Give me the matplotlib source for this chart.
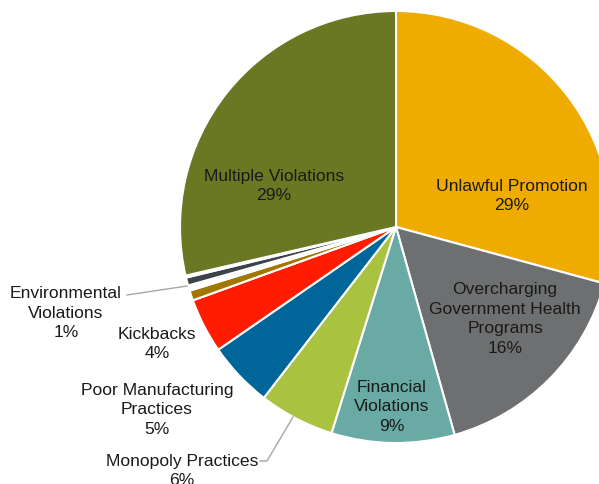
import matplotlib
matplotlib.use("Agg")
import matplotlib.pyplot as plt

plt.rcParams['font.family'] = ['Liberation Sans', 'DejaVu Sans']

# Settlement categories, clockwise from 12 o'clock (percent of total)
categories = [
    "Unlawful Promotion",
    "Overcharging Government Health Programs",
    "Financial Violations",
    "Monopoly Practices",
    "Poor Manufacturing Practices",
    "Kickbacks",
    "Other (a)",
    "Other (b)",
    "Environmental Violations",
    "Other (c)",
    "Multiple Violations",
]
shares = [29.2, 16.4, 9.2, 5.65, 4.9, 4.1, 0.75, 0.4, 0.6, 0.15, 28.6]
colors = [
    "#F0AB00", "#6D6F70", "#69AAA5", "#A9C23F", "#00669A", "#FF1C00",
    "#A07800", "#FFFFFF", "#3D4449", "#8FBCC4", "#6A7723",
]

# Label text for each labelled slice, with its position (figure pixels)
label_text = {
    "Unlawful Promotion": "Unlawful Promotion",
    "Overcharging Government Health Programs": "Overcharging\nGovernment Health\nPrograms",
    "Financial Violations": "Financial\nViolations",
    "Monopoly Practices": "Monopoly Practices",
    "Poor Manufacturing Practices": "Poor Manufacturing\nPractices",
    "Kickbacks": "Kickbacks",
    "Environmental Violations": "Environmental\nViolations",
    "Multiple Violations": "Multiple Violations",
}
label_pos = {
    "Unlawful Promotion": (512, 196),
    "Overcharging Government Health Programs": (505, 319),
    "Financial Violations": (392, 407),
    "Monopoly Practices": (182, 471),
    "Poor Manufacturing Practices": (157, 410),
    "Kickbacks": (157, 344),
    "Environmental Violations": (66, 313),
    "Multiple Violations": (274, 186),
}

W, H = 599, 485
fig = plt.figure(figsize=(W / 100, H / 100), dpi=100)
ax = fig.add_axes([0, 0, 1, 1])
ax.set_xlim(0, W)
ax.set_ylim(0, H)
ax.set_aspect("equal")
ax.axis("off")

cx, cy, r = 396, H - 228, 216
wedges, _ = ax.pie(
    shares, colors=colors, startangle=90, counterclock=False,
    center=(cx, cy), radius=r,
    wedgeprops=dict(edgecolor="white", linewidth=1.5),
)
ax.set_xlim(0, W)
ax.set_ylim(0, H)

for name, share in zip(categories, shares):
    if name not in label_text:
        continue
    x, y = label_pos[name]
    txt = f"{label_text[name]}\n{round(share):d}%"
    ax.text(x, H - y, txt, ha="center", va="center", fontsize=12.6,
            color="#1a1a1a", linespacing=1.38)

# Leader lines for the labels placed outside the pie
lc = "#A6A6A6"
ax.plot([127, 187], [H - 296, H - 287], color=lc, lw=1.0)
ax.plot([260, 267, 293], [H - 462, H - 462, H - 418], color=lc, lw=1.0)

fig.savefig("out.png", dpi=100)
